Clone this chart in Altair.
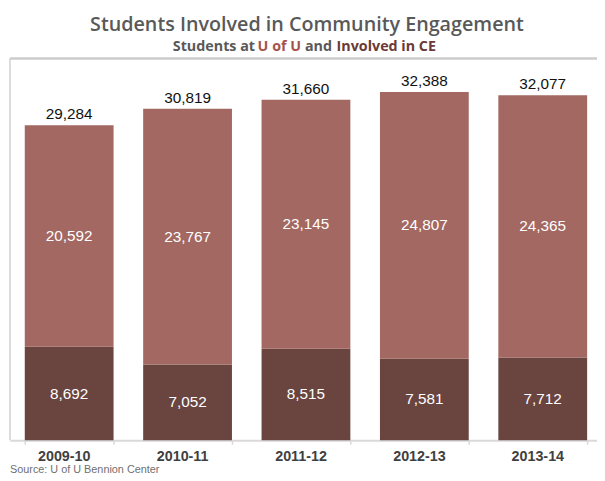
import altair as alt
import pandas as pd

years = ["2009-10", "2010-11", "2011-12", "2012-13", "2013-14"]
at_uofu = [20592, 23767, 23145, 24807, 24365]
involved_ce = [8692, 7052, 8515, 7581, 7712]
totals = [29284, 30819, 31660, 32388, 32077]

title_text = "Students Involved in Community Engagement"
sub_parts = ["Students at", "U of U", "and", "Involved in CE"]
source_text = "Source: U of U Bennion Center"

C_TOP = "#A26861"
C_BOT = "#6A4540"

rows = []
for y, a, b in zip(years, at_uofu, involved_ce):
    rows.append({"year": y, "seg": "Involved in CE", "value": b, "order": 0, "mid": b / 2})
    rows.append({"year": y, "seg": "Students at U of U", "value": a, "order": 1, "mid": b + a / 2})
df = pd.DataFrame(rows)
tot = pd.DataFrame({"year": years, "total": totals})
one = pd.DataFrame({"k": [0]})

W, H = 595, 387
xscale = alt.Scale(domain=years, paddingInner=0.25, paddingOuter=0.1042, align=0.6)
yscale = alt.Scale(domain=[0, 35500])

xenc = alt.X("year:N", scale=xscale, sort=years,
             axis=alt.Axis(title=None, labels=False, tickBand="extent",
                           domainColor="#d9d9d9", domainWidth=2,
                           tickColor="#d9d9d9", tickSize=4, tickWidth=1.5))

bars = alt.Chart(df).mark_bar().encode(
    x=xenc,
    y=alt.Y("value:Q", stack="zero", scale=yscale, axis=None),
    color=alt.Color("seg:N", scale=alt.Scale(domain=["Involved in CE", "Students at U of U"],
                                             range=[C_BOT, C_TOP]), legend=None),
    order=alt.Order("order:Q"),
)

seg_text = alt.Chart(df).mark_text(font="Liberation Sans", fontSize=15.5, color="white",
                                   baseline="middle").encode(
    x=alt.X("year:N", scale=xscale, sort=years),
    y=alt.Y("mid:Q", scale=yscale),
    text=alt.Text("value:Q", format=","),
)

tot_text = alt.Chart(tot).mark_text(font="Liberation Sans", fontSize=15.5, color="#111111",
                                    baseline="alphabetic", dy=-6).encode(
    x=alt.X("year:N", scale=xscale, sort=years),
    y=alt.Y("total:Q", scale=yscale),
    text=alt.Text("total:Q", format=","),
)

cat_labels = alt.Chart(tot).mark_text(font="Liberation Sans", fontWeight="bold", fontSize=14.5,
                                      color="#404040", baseline="alphabetic", dx=-5).encode(
    x=alt.X("year:N", scale=xscale, sort=years),
    y=alt.value(H + 21),
    text="year:N",
)

left_rule = alt.Chart(one).mark_rule(color="#d0d0d0", strokeWidth=1.5).encode(
    x=alt.value(0), y=alt.value(0), y2=alt.value(H))
top_rule = alt.Chart(one).mark_rule(color="#cccccc", strokeWidth=2.5).encode(
    x=alt.value(0), x2=alt.value(W), y=alt.value(0))

title = alt.Chart(one).mark_text(font="Open Sans", fontWeight=600, fontSize=20,
                                 color="#595959", align="center", baseline="alphabetic").encode(
    x=alt.value(301), y=alt.value(-27.5), text=alt.value(title_text))

sub_colors = ["#595959", "#A5524B", "#595959", "#6B3A36"]
sub_x = [165, 251, 299, 331]
subs = []
for t, c, xx in zip(sub_parts, sub_colors, sub_x):
    subs.append(alt.Chart(one).mark_text(font="Open Sans", fontWeight="bold", fontSize=14.5,
                                         color=c, align="left", baseline="alphabetic").encode(
        x=alt.value(xx), y=alt.value(-7.5), text=alt.value(t)))

source = alt.Chart(one).mark_text(font="Liberation Sans", fontSize=11, color="#707070",
                                  align="left", baseline="alphabetic").encode(
    x=alt.value(0), y=alt.value(420), text=alt.value(source_text))

chart = alt.layer(bars, seg_text, tot_text, cat_labels, left_rule, top_rule, title, *subs,
                  source).properties(
    width=W, height=H,
    autosize=alt.AutoSizeParams(type="none"),
    padding={"left": 2, "top": 48, "right": 0, "bottom": 36},
).configure_view(stroke=None)

chart.save("out.html", embed_options={"renderer": "svg", "actions": False})
